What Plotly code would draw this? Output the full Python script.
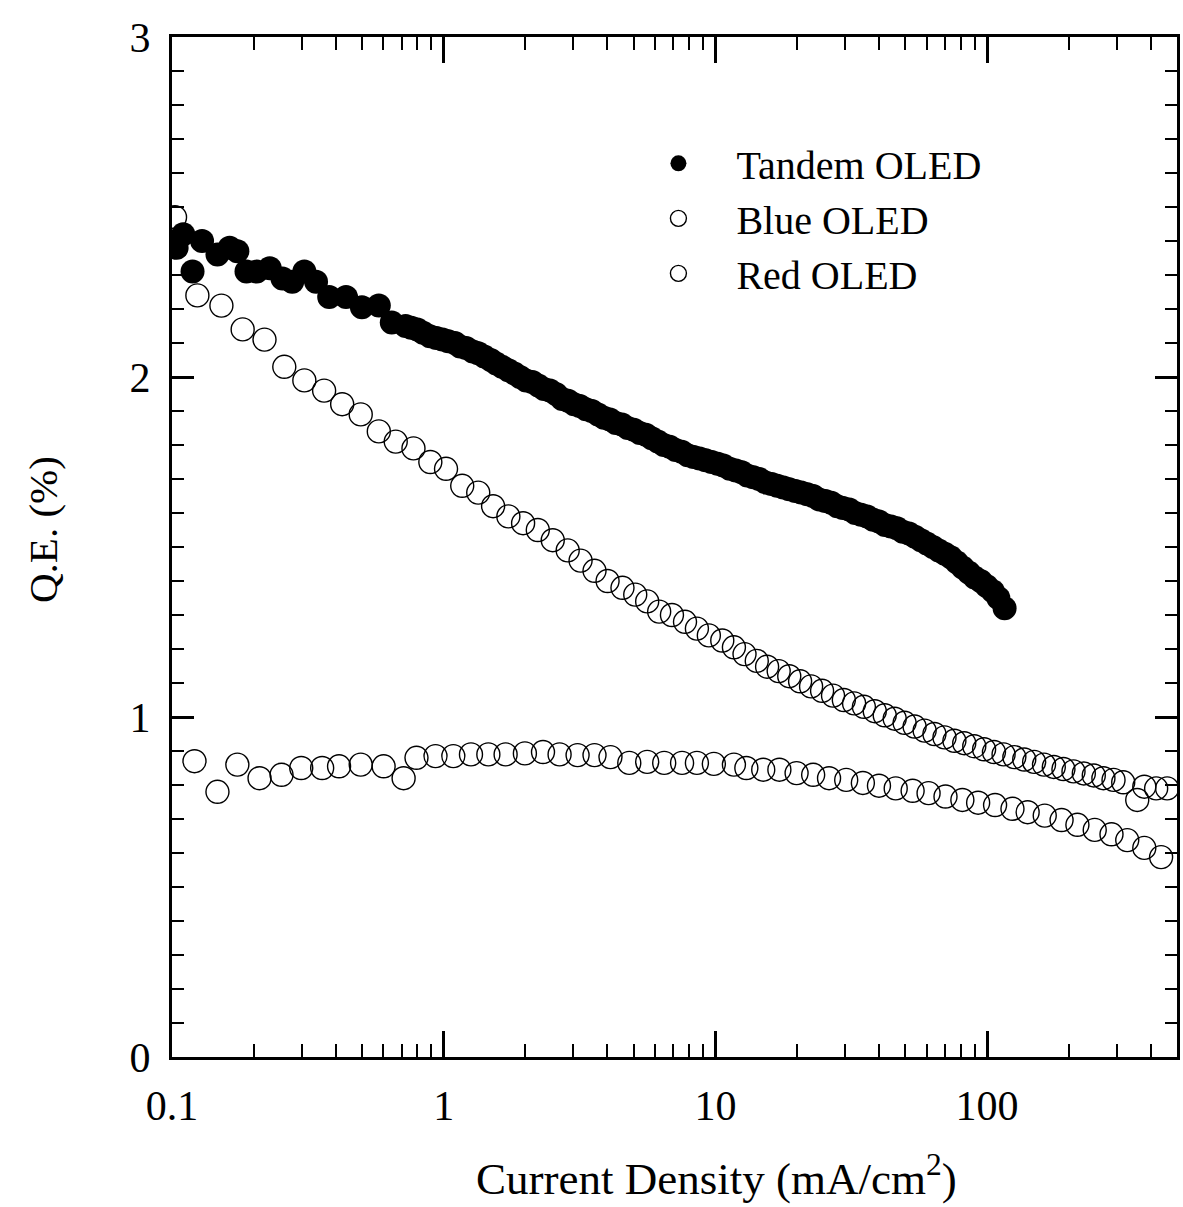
import plotly.graph_objects as go

# ---------------- data ----------------
tandem_x = [0.104, 0.110, 0.119, 0.129, 0.147, 0.163, 0.174, 0.188, 0.205, 0.229,
            0.255, 0.277, 0.307, 0.339, 0.379, 0.437, 0.500, 0.577, 0.644, 0.724,
            0.76, 0.80, 0.84, 0.89, 0.94, 0.99, 1.04, 1.10, 1.15, 1.21,
            1.28, 1.34, 1.41, 1.49, 1.56, 1.64, 1.73, 1.82, 1.91, 2.01,
            2.12, 2.23, 2.34, 2.46, 2.59, 2.73, 2.87, 3.02, 3.17, 3.34,
            3.51, 3.70, 3.89, 4.09, 4.30, 4.53, 4.76, 5.01, 5.27, 5.55,
            5.83, 6.14, 6.46, 6.79, 7.14, 7.52, 7.91, 8.32, 8.75, 9.21,
            9.69, 10.2, 10.7, 11.3, 11.9, 12.5, 13.1, 13.8, 14.5, 15.3,
            16.1, 16.9, 17.8, 18.7, 19.7, 20.7, 21.8, 22.9, 24.1, 25.4,
            26.7, 28.1, 29.5, 31.1, 32.7, 34.4, 36.2, 38.1, 40.0, 42.1,
            44.3, 46.6, 49.0, 51.6, 54.3, 57.1, 60.0, 63.2, 66.4, 69.9,
            73.5, 77.3, 81.3, 85.6, 90.0, 94.7, 99.6, 105, 110, 116]
tandem_y = [2.38, 2.42, 2.31, 2.40, 2.36, 2.38, 2.37, 2.31, 2.31, 2.32,
            2.29, 2.28, 2.31, 2.28, 2.235, 2.235, 2.205, 2.21, 2.16, 2.15,
            2.145, 2.14, 2.13, 2.12, 2.115, 2.11, 2.105, 2.10, 2.09, 2.085,
            2.075, 2.07, 2.06, 2.05, 2.04, 2.03, 2.02, 2.01, 2.00, 1.99,
            1.985, 1.975, 1.965, 1.96, 1.95, 1.935, 1.93, 1.92, 1.915, 1.905,
            1.90, 1.89, 1.88, 1.875, 1.865, 1.86, 1.85, 1.845, 1.835, 1.83,
            1.82, 1.81, 1.80, 1.795, 1.785, 1.78, 1.77, 1.765, 1.76, 1.755,
            1.75, 1.745, 1.74, 1.73, 1.725, 1.72, 1.71, 1.705, 1.70, 1.69,
            1.685, 1.68, 1.675, 1.67, 1.665, 1.66, 1.655, 1.65, 1.64, 1.635,
            1.63, 1.62, 1.615, 1.61, 1.60, 1.595, 1.59, 1.58, 1.575, 1.565,
            1.56, 1.555, 1.545, 1.54, 1.53, 1.52, 1.51, 1.50, 1.49, 1.48,
            1.47, 1.455, 1.44, 1.425, 1.41, 1.40, 1.385, 1.37, 1.35, 1.32]

blue_x = [0.1026, 0.124, 0.152, 0.182, 0.219, 0.259, 0.307, 0.363, 0.423, 0.495,
          0.577, 0.666, 0.774, 0.893, 1.02, 1.17, 1.34, 1.52, 1.73, 1.96,
          2.22, 2.52, 2.86, 3.19, 3.59, 4.01, 4.55, 5.07, 5.61, 6.21,
          6.92, 7.73, 8.55, 9.46, 10.6, 11.7, 12.8, 14.2, 15.5, 17.1,
          18.7, 20.5, 22.5, 24.7, 27.1, 29.7, 32.4, 35.2, 38.6, 42.0,
          45.7, 49.7, 54.1, 58.9, 64.0, 69.7, 75.8, 82.4, 89.7, 97.5,
          106, 115, 126, 137, 149, 162, 176, 191, 208, 227,
          247, 268, 292, 317, 357, 379, 419, 460]
blue_y = [2.47, 2.24, 2.21, 2.14, 2.11, 2.03, 1.99, 1.96, 1.92, 1.89,
          1.84, 1.81, 1.79, 1.75, 1.73, 1.68, 1.66, 1.62, 1.59, 1.57,
          1.55, 1.52, 1.49, 1.46, 1.43, 1.40, 1.38, 1.36, 1.34, 1.31,
          1.30, 1.28, 1.26, 1.24, 1.225, 1.205, 1.185, 1.165, 1.148, 1.135,
          1.12, 1.105, 1.09, 1.077, 1.063, 1.05, 1.04, 1.03, 1.017, 1.005,
          0.995, 0.983, 0.972, 0.96, 0.95, 0.94, 0.93, 0.923, 0.914, 0.905,
          0.897, 0.89, 0.882, 0.875, 0.868, 0.86, 0.853, 0.847, 0.84, 0.834,
          0.828, 0.82, 0.815, 0.808, 0.756, 0.795, 0.79, 0.79]

red_x = [0.121, 0.147, 0.174, 0.210, 0.253, 0.299, 0.357, 0.412, 0.495, 0.601,
         0.712, 0.794, 0.933, 1.085, 1.26, 1.46, 1.69, 1.99, 2.32, 2.67,
         3.11, 3.59, 4.11, 4.82, 5.61, 6.48, 7.54, 8.55, 9.87, 11.7,
         13.0, 15.0, 17.2, 19.9, 22.9, 26.2, 30.3, 34.9, 40.0, 46.1,
         53.2, 60.9, 70.3, 81.1, 92.7, 107, 124, 141, 163, 188,
         215, 249, 287, 328, 379, 437]
red_y = [0.87, 0.78, 0.86, 0.82, 0.83, 0.85, 0.85, 0.855, 0.86, 0.855,
         0.82, 0.88, 0.885, 0.885, 0.89, 0.89, 0.89, 0.893, 0.897, 0.89,
         0.888, 0.888, 0.882, 0.865, 0.868, 0.865, 0.865, 0.865, 0.862, 0.86,
         0.85, 0.845, 0.845, 0.835, 0.83, 0.82, 0.815, 0.806, 0.798, 0.79,
         0.783, 0.776, 0.766, 0.756, 0.748, 0.741, 0.73, 0.72, 0.71, 0.697,
         0.683, 0.668, 0.655, 0.638, 0.615, 0.588]

x_major = [0.1, 1, 10, 100]
x_major_text = ["0.1", "1", "10", "100"]
x_minor = [0.2, 0.3, 0.4, 0.5, 0.6, 0.7, 0.8, 0.9,
           2, 3, 4, 5, 6, 7, 8, 9,
           20, 30, 40, 50, 60, 70, 80, 90,
           200, 300, 400]
y_major = [0, 1, 2, 3]

x_title = "Current Density (mA/cm<sup>2</sup>)"
y_title = "Q.E. (%)"

# ---------------- figure ----------------
FONT = "Liberation Serif, Times New Roman, serif"
PAD = "\u00a0\u00a0\u00a0\u2009"

fig = go.Figure()
fig.add_trace(go.Scatter(
    x=tandem_x, y=tandem_y, mode="markers", name=PAD + "Tandem OLED",
    marker=dict(symbol="circle", size=24, color="black", line=dict(width=0))))
fig.add_trace(go.Scatter(
    x=blue_x, y=blue_y, mode="markers", name=PAD + "Blue OLED",
    marker=dict(symbol="circle-open", size=23, color="black", line=dict(width=1.4))))
fig.add_trace(go.Scatter(
    x=red_x, y=red_y, mode="markers", name=PAD + "Red OLED",
    marker=dict(symbol="circle-open", size=23, color="black", line=dict(width=1.4))))

fig.update_layout(
    width=1183, height=1207,
    margin=dict(l=172, r=3, t=37, b=150),
    paper_bgcolor="white", plot_bgcolor="white",
    font=dict(family=FONT, size=40, color="black"),
    showlegend=True,
    legend=dict(x=0.484, y=0.908, xanchor="left", yanchor="top",
                bgcolor="rgba(0,0,0,0)", borderwidth=0,
                font=dict(family=FONT, size=40, color="black"),
                itemsizing="trace", tracegroupgap=0),
    xaxis=dict(
        type="log", range=[-1, 2.699],
        tickmode="array", tickvals=x_major, ticktext=x_major_text,
        ticks="inside", ticklen=26, tickwidth=2.5, tickcolor="black",
        minor=dict(tickmode="array", tickvals=x_minor, ticks="inside",
                   ticklen=13, tickwidth=2, tickcolor="black", showgrid=False),
        showline=True, linewidth=3, linecolor="black", mirror="allticks",
        showgrid=False, zeroline=False,
        ticklabelstandoff=10,
        tickfont=dict(family=FONT, size=42, color="black"),
    ),
    yaxis=dict(
        range=[0, 3],
        tickmode="array", tickvals=y_major,
        ticks="inside", ticklen=22, tickwidth=2.5, tickcolor="black",
        minor=dict(dtick=0.1, ticks="inside", ticklen=12, tickwidth=2,
                   tickcolor="black", showgrid=False),
        showline=True, linewidth=3, linecolor="black", mirror="allticks",
        showgrid=False, zeroline=False,
        ticklabelstandoff=10,
        tickfont=dict(family=FONT, size=42, color="black"),
    ),
    annotations=[
        dict(text=x_title, xref="paper", yref="paper", x=0.542, y=-0.1157,
             xanchor="center", yanchor="middle", showarrow=False,
             font=dict(family=FONT, size=45, color="black")),
        dict(text=y_title, xref="paper", yref="paper", x=-0.129, y=0.517,
             xanchor="center", yanchor="middle", showarrow=False, textangle=-90,
             font=dict(family=FONT, size=41, color="black")),
    ],
)

fig.write_html("out.html", config={"displayModeBar": False},
               post_script="document.body.style.margin='0px';")
